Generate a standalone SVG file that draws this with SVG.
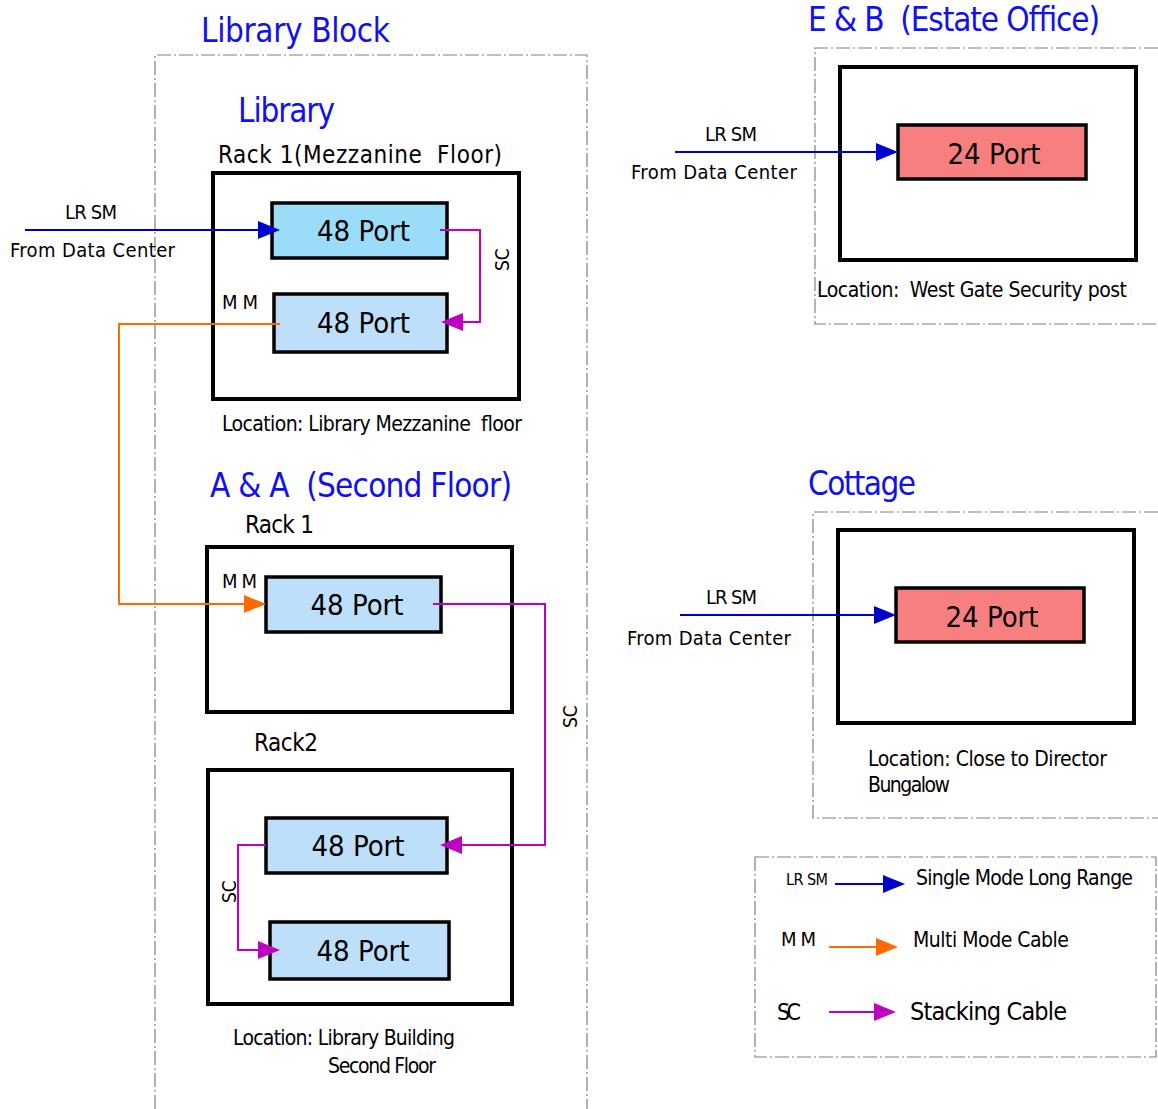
<svg xmlns="http://www.w3.org/2000/svg" width="1158" height="1109" viewBox="0 0 1158 1109">
  <style>
    text { font-family: "DejaVu Sans Condensed", "DejaVu Sans", sans-serif; fill: #000; white-space: pre; }
    .title { fill: #1010F0; font-size: 33px; }
    .lbl { font-size: 21px; }
    .port { font-size: 29px; }
    .lrsm { font-size: 20px; }
    .zone { fill: none; stroke: #808080; stroke-width: 1.2; stroke-dasharray: 14 3 2 3; }
    .rack { fill: #fff; stroke: #000; stroke-width: 4; }
    .p48a { fill: #9BDCF8; stroke: #000; stroke-width: 3.5; }
    .p48b { fill: #BDDFFA; stroke: #000; stroke-width: 3.5; }
    .p24 { fill: #F87F7F; stroke: #000; stroke-width: 3.5; }
    .sm { fill: none; stroke: #0000CC; stroke-width: 2; }
    .mm { fill: none; stroke: #FF6A00; stroke-width: 2; }
    .sc { fill: none; stroke: #C000C0; stroke-width: 2; }
  </style>
  <defs>
    <path id="headSM" d="M0,-9 L22,0 L0,9 z" fill="#0000CC"/>
    <path id="headMM" d="M0,-9 L22,0 L0,9 z" fill="#FF6A00"/>
    <path id="headSC" d="M0,-9 L22,0 L0,9 z" fill="#C000C0"/>
  </defs>

  <!-- dash-dot zone outlines -->
  <g id="zones">
    <path class="zone" d="M155,1109 V55 H587 V1109"/>
    <path class="zone" d="M1158,48 H815 V324 H1158"/>
    <path class="zone" d="M1158,512 H813 V818 H1158"/>
    <rect class="zone" x="755" y="857" width="401" height="200"/>
  </g>

  <!-- zone titles -->
  <g id="titles">
    <text class="title" x="201" y="42" textLength="189">Library Block</text>
    <text class="title" x="238" y="122" textLength="97">Library</text>
    <text class="title" x="210" y="497" textLength="302">A &amp; A  (Second Floor)</text>
    <text class="title" x="808" y="31" textLength="292">E &amp; B  (Estate Office)</text>
    <text class="title" x="808" y="495" textLength="108">Cottage</text>
  </g>

  <!-- Library, Rack 1 (Mezzanine) -->
  <g id="rack-mezzanine">
    <text x="218" y="163" font-size="24" textLength="284">Rack 1(Mezzanine  Floor)</text>
    <rect class="rack" x="213" y="173" width="306" height="226"/>
    <text class="lbl" x="222" y="431" textLength="300">Location: Library Mezzanine  floor</text>
  </g>
  <g id="mezz-port1">
    <rect class="p48a" x="272" y="203" width="175" height="55"/>
    <text class="port" x="363.5" y="241" text-anchor="middle">48 Port</text>
  </g>
  <g id="mezz-port2">
    <rect class="p48b" x="274" y="294" width="173" height="58"/>
    <text class="port" x="363.5" y="333" text-anchor="middle">48 Port</text>
  </g>

  <!-- A & A, Rack 1 -->
  <g id="rack-aa1">
    <text x="245" y="533" font-size="24" textLength="69">Rack 1</text>
    <rect class="rack" x="207" y="547" width="305" height="165"/>
  </g>
  <g id="aa1-port">
    <rect class="p48b" x="266" y="577" width="175" height="55"/>
    <text class="port" x="357" y="615" text-anchor="middle">48 Port</text>
  </g>

  <!-- A & A, Rack 2 -->
  <g id="rack-aa2">
    <text x="254" y="751" font-size="24" textLength="64">Rack2</text>
    <rect class="rack" x="208" y="770" width="304" height="234"/>
    <text class="lbl" x="233" y="1045" textLength="222">Location: Library Building</text>
    <text class="lbl" x="328" y="1073" textLength="108">Second Floor</text>
  </g>
  <g id="aa2-port1">
    <rect class="p48b" x="266" y="818" width="181" height="55"/>
    <text class="port" x="358" y="856" text-anchor="middle">48 Port</text>
  </g>
  <g id="aa2-port2">
    <rect class="p48b" x="270" y="922" width="179" height="57"/>
    <text class="port" x="363" y="961" text-anchor="middle">48 Port</text>
  </g>

  <!-- E & B (Estate Office) -->
  <g id="rack-eb">
    <rect class="rack" x="840" y="67" width="296" height="193"/>
    <text class="lbl" x="817" y="297" textLength="310">Location:  West Gate Security post</text>
  </g>
  <g id="eb-port">
    <rect class="p24" x="898" y="125" width="188" height="54"/>
    <text class="port" x="994" y="164" text-anchor="middle">24 Port</text>
  </g>

  <!-- Cottage -->
  <g id="rack-cottage">
    <rect class="rack" x="838" y="530" width="296" height="193"/>
    <text class="lbl" x="868" y="766" textLength="239">Location: Close to Director</text>
    <text class="lbl" x="868" y="792" textLength="82">Bungalow</text>
  </g>
  <g id="cottage-port">
    <rect class="p24" x="896" y="588" width="188" height="54"/>
    <text class="port" x="992" y="627" text-anchor="middle">24 Port</text>
  </g>

  <!-- cables -->
  <g id="connectors">
    <!-- single mode feeds from the data centre -->
    <path class="sm" d="M25,230 H262"/>
    <use href="#headSM" x="258" y="230"/>
    <text class="lrsm" x="65" y="219" textLength="52">LR SM</text>
    <text x="10" y="257" font-size="20" textLength="165">From Data Center</text>

    <path class="sm" d="M675,152 H880"/>
    <use href="#headSM" x="876" y="152"/>
    <text class="lrsm" x="705" y="141" textLength="52">LR SM</text>
    <text x="631" y="179" font-size="20" textLength="166">From Data Center</text>

    <path class="sm" d="M680,615 H878"/>
    <use href="#headSM" x="874" y="615"/>
    <text class="lrsm" x="706" y="604" textLength="51">LR SM</text>
    <text x="627" y="645" font-size="20" textLength="164">From Data Center</text>

    <!-- stacking, mezzanine rack -->
    <path class="sc" d="M440,230 H480 V322 H460"/>
    <use href="#headSC" x="463" y="322" transform="rotate(180 463 322)"/>
    <text x="509" y="271" font-size="19" transform="rotate(-90 509 271)">SC</text>

    <!-- multi mode, mezzanine to A&amp;A rack 1 -->
    <path class="mm" d="M280,324 H119 V604 H248"/>
    <use href="#headMM" x="244" y="604"/>
    <text x="222" y="309" font-size="20" textLength="36">MM</text>
    <text x="222" y="588" font-size="20" textLength="35">MM</text>

    <!-- stacking, rack 1 to rack 2 -->
    <path class="sc" d="M433,604 H545 V845 H458"/>
    <use href="#headSC" x="462" y="845" transform="rotate(180 462 845)"/>
    <text x="577" y="728" font-size="19" transform="rotate(-90 577 728)">SC</text>

    <!-- stacking inside rack 2 -->
    <path class="sc" d="M266,845 H238 V950 H262"/>
    <use href="#headSC" x="258" y="950"/>
    <text x="236" y="903" font-size="19" transform="rotate(-90 236 903)">SC</text>
  </g>

  <!-- legend -->
  <g id="legend">
    <text x="786" y="885" font-size="16" textLength="42">LR SM</text>
    <path class="sm" d="M835,884 H888"/>
    <use href="#headSM" x="883" y="884"/>
    <text class="lbl" x="916" y="885" textLength="217">Single Mode Long Range</text>

    <text x="781" y="946" font-size="20" textLength="35">MM</text>
    <path class="mm" d="M829,947 H880"/>
    <use href="#headMM" x="876" y="947"/>
    <text class="lbl" x="913" y="947" font-size="20" textLength="156">Multi Mode Cable</text>

    <text x="777" y="1020" font-size="23" textLength="24">SC</text>
    <path class="sc" d="M829,1012 H878"/>
    <use href="#headSC" x="874" y="1012"/>
    <text x="910" y="1020" font-size="25" textLength="157">Stacking Cable</text>
  </g>
</svg>
